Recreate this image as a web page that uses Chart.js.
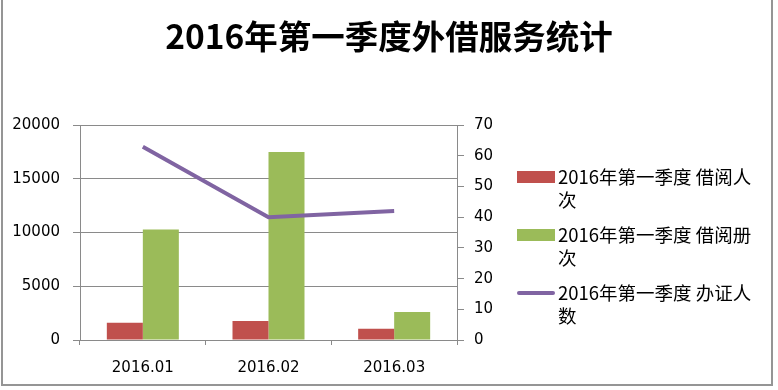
<!DOCTYPE html>
<html>
<head>
<meta charset="utf-8">
<script src="https://cdn.jsdelivr.net/npm/chart.js@4"></script>
<style>
  body { margin: 0; background: #fff; }
  #wrap { position: relative; width: 778px; height: 390px; overflow: hidden; }
  #frame { position: absolute; left: 1px; top: -4px; width: 772px; height: 390px; border: 2px solid #959595; box-sizing: border-box; pointer-events: none; }
  #legend { position: absolute; left: 0; top: 0; font-family: "Noto Sans CJK SC", sans-serif; font-size: 18.5px; color: #000; }
  .item { position: absolute; left: 517px; }
  .mark { position: absolute; left: 0; width: 38px; }
  .txt { position: absolute; left: 41px; width: 200px; line-height: 23px; }
</style>
</head>
<body>
<div id="wrap">
  <canvas id="graph" width="778" height="390"></canvas>
  <div id="legend"></div>
  <div id="frame"></div>
</div>
<script>
const months = ['2016.01', '2016.02', '2016.03'];
const readers = [1600, 1780, 1040];     // 借阅人次
const volumes = [10300, 17500, 2600];   // 借阅册次
const cards = [63, 40, 42];             // 办证人数
const leftTicks = [0, 5000, 10000, 15000, 20000];
const rightTicks = [0, 10, 20, 30, 40, 50, 60, 70];

const seriesNames = ['2016年第一季度 借阅人次', '2016年第一季度 借阅册次', '2016年第一季度 办证人数'];
const colors = ['#C0504D', '#9BBB59', '#8064A2'];
const axisGray = '#8a8a8a';
const tickFont = { family: 'DejaVu Sans', size: 15 };

const ctx = document.getElementById('graph');

const chart = new Chart(ctx, {
    type: 'bar',
    data: {
        labels: months,
        datasets: [
            { label: seriesNames[0], data: readers, backgroundColor: colors[0], yAxisID: 'y', order: 1,
              categoryPercentage: 0.573, barPercentage: 1 },
            { label: seriesNames[1], data: volumes, backgroundColor: colors[1], yAxisID: 'y', order: 1,
              categoryPercentage: 0.573, barPercentage: 1 },
            { type: 'line', label: seriesNames[2], data: cards, borderColor: colors[2], borderWidth: 4,
              pointRadius: 0, fill: false, yAxisID: 'y1', order: 0, tension: 0 }
        ]
    },
    options: {
        responsive: false,
        animation: false,
        layout: { padding: 0 },
        plugins: {
            legend: { display: false },
            tooltip: { enabled: false },
            title: {
                display: true,
                text: '2016年第一季度外借服务统计',
                color: '#000',
                font: { family: 'Noto Sans CJK SC', size: 33.5, weight: 'bold', lineHeight: 1.2 },
                padding: { top: 16, bottom: 69 }
            }
        },
        scales: {
            x: {
                afterFit: (s) => { s.height = 50; },
                grid: { drawOnChartArea: false, drawTicks: true, tickLength: 5, color: axisGray },
                border: { display: true, color: axisGray },
                ticks: { color: '#000', font: tickFont, padding: 14 }
            },
            y: {
                position: 'left',
                min: 0, max: 20000,
                afterFit: (s) => { s.width = 80; },
                afterBuildTicks: (s) => { s.ticks = leftTicks.map(v => ({ value: v })); },
                grid: { color: axisGray, tickLength: 7 },
                border: { display: true, color: axisGray },
                ticks: { color: '#000', font: tickFont, padding: 13, callback: (v) => String(v) }
            },
            y1: {
                position: 'right',
                min: 0, max: 70,
                afterFit: (s) => { s.width = 321; },
                afterBuildTicks: (s) => { s.ticks = rightTicks.map(v => ({ value: v })); },
                grid: { drawOnChartArea: false, color: axisGray, tickLength: 7 },
                border: { display: true, color: axisGray },
                ticks: { color: '#000', font: tickFont, padding: 10, callback: (v) => String(v) }
            }
        }
    }
});

// legend with wrapped labels, built from the chart's datasets
const legendBox = document.getElementById('legend');
const itemTops = [165, 223, 281];
chart.data.datasets.forEach((ds, i) => {
    const item = document.createElement('div');
    item.className = 'item';
    item.style.top = itemTops[i] + 'px';
    const mark = document.createElement('div');
    mark.className = 'mark';
    if (ds.type === 'line') {
        mark.style.top = '10px';
        mark.style.height = '4px';
        mark.style.borderRadius = '2px';
        mark.style.background = ds.borderColor;
    } else {
        mark.style.top = '6px';
        mark.style.height = '12px';
        mark.style.background = ds.backgroundColor;
    }
    const txt = document.createElement('div');
    txt.className = 'txt';
    txt.textContent = ds.label;
    item.appendChild(mark);
    item.appendChild(txt);
    legendBox.appendChild(item);
});
</script>
</body>
</html>
